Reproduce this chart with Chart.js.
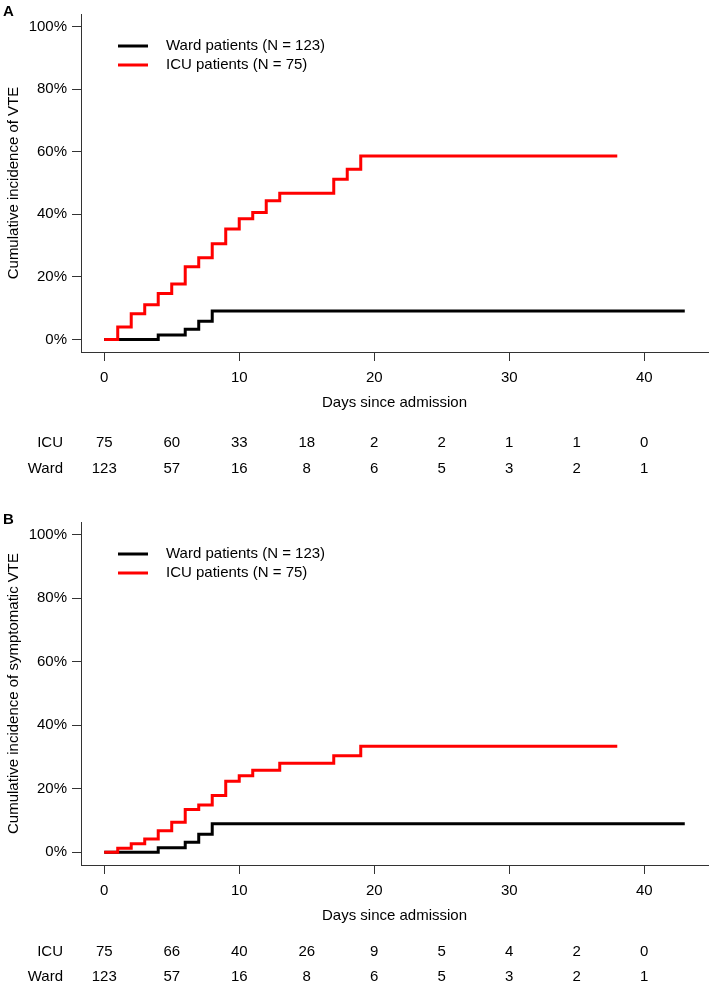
<!DOCTYPE html>
<html>
<head>
<meta charset="utf-8">
<script src="https://cdn.jsdelivr.net/npm/chart.js@4"></script>
<style>
  body { margin: 0; background: #fff; }
  #wrap { position: relative; width: 709px; height: 985px; }
  canvas { position: absolute; left: 0; }
</style>
</head>
<body>
<div id="wrap">
  <canvas id="chartA" width="709" height="500" style="top:0"></canvas>
  <canvas id="chartB" width="709" height="485" style="top:500px"></canvas>
</div>
<script>
// axis ticks
const xTicks = [0, 10, 20, 30, 40];
const yTicks = [0, 20, 40, 60, 80, 100];

// panel A - all VTE
const wardDaysA = [0, 4, 6, 7, 8, 43];
const wardCumA = [0, 1.4, 3.3, 5.8, 9.1, 9.1];
const icuDaysA = [0, 1, 2, 3, 4, 5, 6, 7, 8, 9, 10, 11, 12, 13, 17, 18, 19, 38];
const icuCumA = [0, 4.0, 8.2, 11.1, 14.7, 17.7, 23.2, 26.1, 30.6, 35.3, 38.6, 40.6, 44.3, 46.7, 51.2, 54.4, 58.6, 58.6];

// panel B - symptomatic VTE
const wardDaysB = [0, 4, 6, 7, 8, 43];
const wardCumB = [0, 1.4, 3.2, 5.7, 9.0, 9.0];
const icuDaysB = [0, 1, 2, 3, 4, 5, 6, 7, 8, 9, 10, 11, 13, 17, 19, 38];
const icuCumB = [0, 1.3, 2.7, 4.2, 6.8, 9.5, 13.5, 14.9, 17.9, 22.4, 24.1, 25.8, 28.0, 30.4, 33.4, 33.4];

// numbers at risk
const riskDays = [0, 5, 10, 15, 20, 25, 30, 35, 40];
const icuRiskA = [75, 60, 33, 18, 2, 2, 1, 1, 0];
const wardRiskA = [123, 57, 16, 8, 6, 5, 3, 2, 1];
const icuRiskB = [75, 66, 40, 26, 9, 5, 4, 2, 0];
const wardRiskB = [123, 57, 16, 8, 6, 5, 3, 2, 1];

const FONT = '"Liberation Sans", Arial, Helvetica, sans-serif';
Chart.defaults.font.family = FONT;
Chart.defaults.font.size = 15;
Chart.defaults.color = '#000';

const toPoints = (xs, ys) => xs.map((x, i) => ({ x: x, y: ys[i] }));

// panel letter, legend inside the plot, risk table under the axis
const kmExtras = {
  id: 'kmExtras',
  afterDraw(chart, args, opts) {
    const { ctx, chartArea } = chart;
    const xs = chart.scales.x;
    ctx.save();
    ctx.fillStyle = '#000';
    ctx.textBaseline = 'middle';

    ctx.font = 'bold 15px ' + FONT;
    ctx.textAlign = 'left';
    ctx.fillText(opts.panel, 3, chartArea.top - 2);

    ctx.font = '15px ' + FONT;
    chart.data.datasets.forEach((ds, i) => {
      const y = chartArea.top + 32 + i * 19;
      ctx.strokeStyle = ds.borderColor;
      ctx.lineWidth = 3;
      ctx.beginPath();
      ctx.moveTo(chartArea.left + 37, y);
      ctx.lineTo(chartArea.left + 67, y);
      ctx.stroke();
      ctx.fillText(ds.label, chartArea.left + 85, y);
    });

    opts.rows.forEach((row, r) => {
      const y = chartArea.bottom + opts.rowOffset + r * opts.rowGap;
      ctx.textAlign = 'right';
      ctx.fillText(row.name, 63, y);
      ctx.textAlign = 'center';
      row.values.forEach((v, i) => {
        ctx.fillText(String(v), xs.getPixelForValue(riskDays[i]), y);
      });
    });
    ctx.restore();
  }
};

function makeChart(id, yTitle, wardPts, icuPts, panel, icuRisk, wardRisk, padTop, padBottom, rowOffset, rowGap) {
  return new Chart(document.getElementById(id), {
    type: 'line',
    data: {
      datasets: [{
        label: 'Ward patients (N = 123)',
        data: wardPts,
        borderColor: '#000',
        borderWidth: 3,
        stepped: 'before',
        pointRadius: 0,
        fill: false,
        order: 1
      }, {
        label: 'ICU patients (N = 75)',
        data: icuPts,
        borderColor: '#ff0000',
        borderWidth: 3,
        stepped: 'before',
        pointRadius: 0,
        fill: false,
        order: 0
      }]
    },
    options: {
      responsive: false,
      devicePixelRatio: 1,
      animation: false,
      events: [],
      layout: { padding: { top: padTop, bottom: padBottom, left: 0, right: 1 } },
      plugins: {
        legend: { display: false },
        tooltip: { enabled: false },
        kmExtras: {
          panel: panel,
          rowOffset: rowOffset,
          rowGap: rowGap,
          rows: [{ name: 'ICU', values: icuRisk }, { name: 'Ward', values: wardRisk }]
        }
      },
      scales: {
        x: {
          type: 'linear',
          min: -1.72,
          max: 44.72,
          afterBuildTicks: s => { s.ticks = xTicks.map(v => ({ value: v })); },
          afterFit: s => { s.height = 60; },
          ticks: { padding: 8, maxRotation: 0, autoSkip: false },
          grid: { drawOnChartArea: false, tickLength: 9, tickColor: '#333', tickWidth: 1 },
          border: { display: true, color: '#333', width: 1 },
          title: { display: true, text: 'Days since admission', padding: { top: 0, bottom: 0 } }
        },
        y: {
          type: 'linear',
          min: -4,
          max: 104,
          afterBuildTicks: s => { s.ticks = yTicks.map(v => ({ value: v })); },
          afterFit: s => { s.width = 81; },
          ticks: { padding: 5, callback: v => v + '%' },
          grid: { drawOnChartArea: false, tickLength: 9, tickColor: '#333', tickWidth: 1 },
          border: { display: true, color: '#333', width: 1 },
          title: { display: true, text: yTitle, padding: { top: 5, bottom: 0 } }
        }
      }
    },
    plugins: [kmExtras]
  });
}

makeChart('chartA', 'Cumulative incidence of VTE',
  toPoints(wardDaysA, wardCumA), toPoints(icuDaysA, icuCumA),
  'A', icuRiskA, wardRiskA, 10, 88, 91, 26);

makeChart('chartB', 'Cumulative incidence of symptomatic VTE',
  toPoints(wardDaysB, wardCumB), toPoints(icuDaysB, icuCumB),
  'B', icuRiskB, wardRiskB, 22, 60, 87, 25);
</script>
</body>
</html>
